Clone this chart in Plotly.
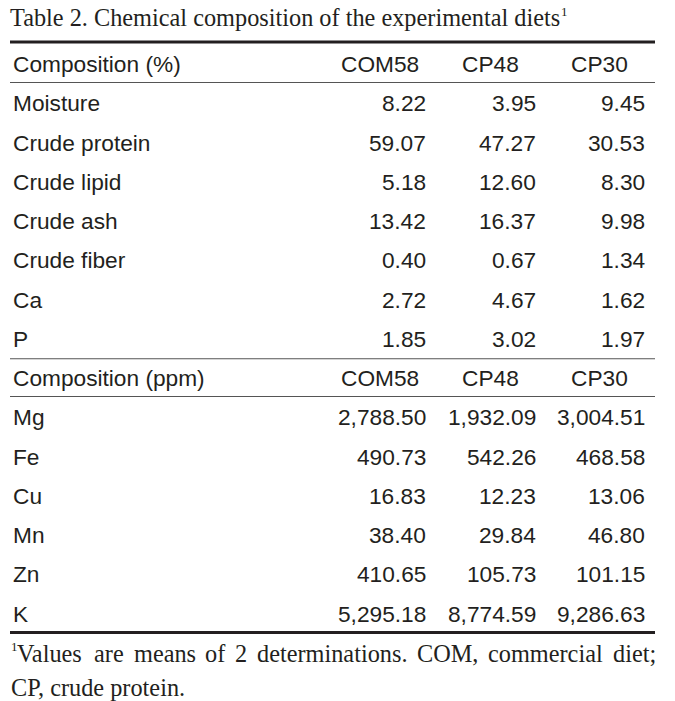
import plotly.graph_objects as go

title_text = "Table 2. Chemical composition of the experimental diets"
title_mark = "1"
columns = ["COM58", "CP48", "CP30"]

pct_header = "Composition (%)"
pct_rows = ["Moisture", "Crude protein", "Crude lipid", "Crude ash", "Crude fiber", "Ca", "P"]
pct_com58 = [8.22, 59.07, 5.18, 13.42, 0.40, 2.72, 1.85]
pct_cp48 = [3.95, 47.27, 12.60, 16.37, 0.67, 4.67, 3.02]
pct_cp30 = [9.45, 30.53, 8.30, 9.98, 1.34, 1.62, 1.97]

ppm_header = "Composition (ppm)"
ppm_rows = ["Mg", "Fe", "Cu", "Mn", "Zn", "K"]
ppm_com58 = [2788.50, 490.73, 16.83, 38.40, 410.65, 5295.18]
ppm_cp48 = [1932.09, 542.26, 12.23, 29.84, 105.73, 8774.59]
ppm_cp30 = [3004.51, 468.58, 13.06, 46.80, 101.15, 9286.63]

footnote_mark = "1"
footnote_line1 = ["Values", "are", "means", "of", "2", "determinations.", "COM,", "commercial", "diet;"]
footnote_line2 = "CP, crude protein."

# ---------------- layout constants ----------------
W, H = 675, 701
SANS = "Liberation Sans, Arial, sans-serif"
SERIF = "Liberation Serif, Times New Roman, serif"
TXT = "#231f20"
FS = 22.7
SERIF_FS = 24.3
FOOT_FS = 24.3
LEFT, RIGHT = 10, 655
LABEL_X = 12
VAL_RIGHT = [427, 537, 646]
HEAD_CENTER = [380, 490, 599]
ROW_STEP = 39.25

fig = go.Figure()
ann = []

def text(x, y, s, anchor="left", size=FS, family=SANS):
    ann.append(dict(x=x, y=y, xref="x", yref="y", text=s, showarrow=False,
                    xanchor=anchor, yanchor="middle",
                    font=dict(family=family, size=size, color=TXT), borderpad=0))

def hline(y, width, color):
    fig.add_shape(type="line", x0=LEFT, x1=RIGHT, y0=y, y1=y, xref="x", yref="y",
                  line=dict(color=color, width=width))

TW = {' ': 250, 'V': 722, 'a': 444, 'l': 278, 'u': 500, 'e': 444, 's': 389, 'r': 333,
      'm': 778, 'n': 500, 'o': 500, 'f': 333, '2': 500, 'd': 500, 't': 278, 'i': 278,
      '.': 250, 'C': 667, 'O': 722, 'M': 889, ',': 250, 'c': 444, ';': 278, 'T': 611,
      'b': 500, 'h': 500, 'p': 500, 'x': 500}

def tw(word, fs):
    return sum(TW.get(ch, 500) for ch in word) * fs / 1000

# title
text(LEFT - 1, 17, title_text, size=SERIF_FS, family=SERIF)
text(LEFT - 1 + tw(title_text, SERIF_FS) - 1.5, 11, title_mark, size=13, family=SERIF)
hline(42, 3, "#231f20")

def block(y0, header, rows, c1, c2, c3):
    text(LABEL_X, y0, header)
    for j, c in enumerate(columns):
        text(HEAD_CENTER[j], y0, c, anchor="center")
    hline(y0 + 18.5, 1.2, "#555555")
    y = y0 + ROW_STEP
    for i, r in enumerate(rows):
        text(LABEL_X, y, r)
        for j, vals in enumerate((c1, c2, c3)):
            text(VAL_RIGHT[j], y, f"{vals[i]:,.2f}", anchor="right")
        y += ROW_STEP
    return y - ROW_STEP

last = block(64, pct_header, pct_rows, pct_com58, pct_cp48, pct_cp30)
hline(last + 20, 1.2, "#555555")
last = block(last + ROW_STEP, ppm_header, ppm_rows, ppm_com58, ppm_cp48, ppm_cp30)
hline(last + 19, 3, "#231f20")

# footnote, justified line 1
MARK_W = 6
text(LEFT, 646, footnote_mark, size=13, family=SERIF)
widths = [tw(w, FOOT_FS) for w in footnote_line1]
gap = (RIGHT - LEFT - MARK_W - sum(widths)) / (len(footnote_line1) - 1)
x = LEFT + MARK_W
for w, wd in zip(footnote_line1, widths):
    text(x, 653, w, size=FOOT_FS, family=SERIF)
    x += wd + gap
text(LEFT, 687, footnote_line2, size=FOOT_FS, family=SERIF)

fig.update_layout(
    width=W, height=H, margin=dict(l=0, r=0, t=0, b=0),
    paper_bgcolor="white", plot_bgcolor="white",
    xaxis=dict(range=[0, W], visible=False, fixedrange=True),
    yaxis=dict(range=[H, 0], visible=False, fixedrange=True),
    annotations=ann, showlegend=False,
)
fig.write_html("out.html", config={"displayModeBar": False},
               post_script="document.body.style.margin='0';document.body.style.overflow='hidden';")
